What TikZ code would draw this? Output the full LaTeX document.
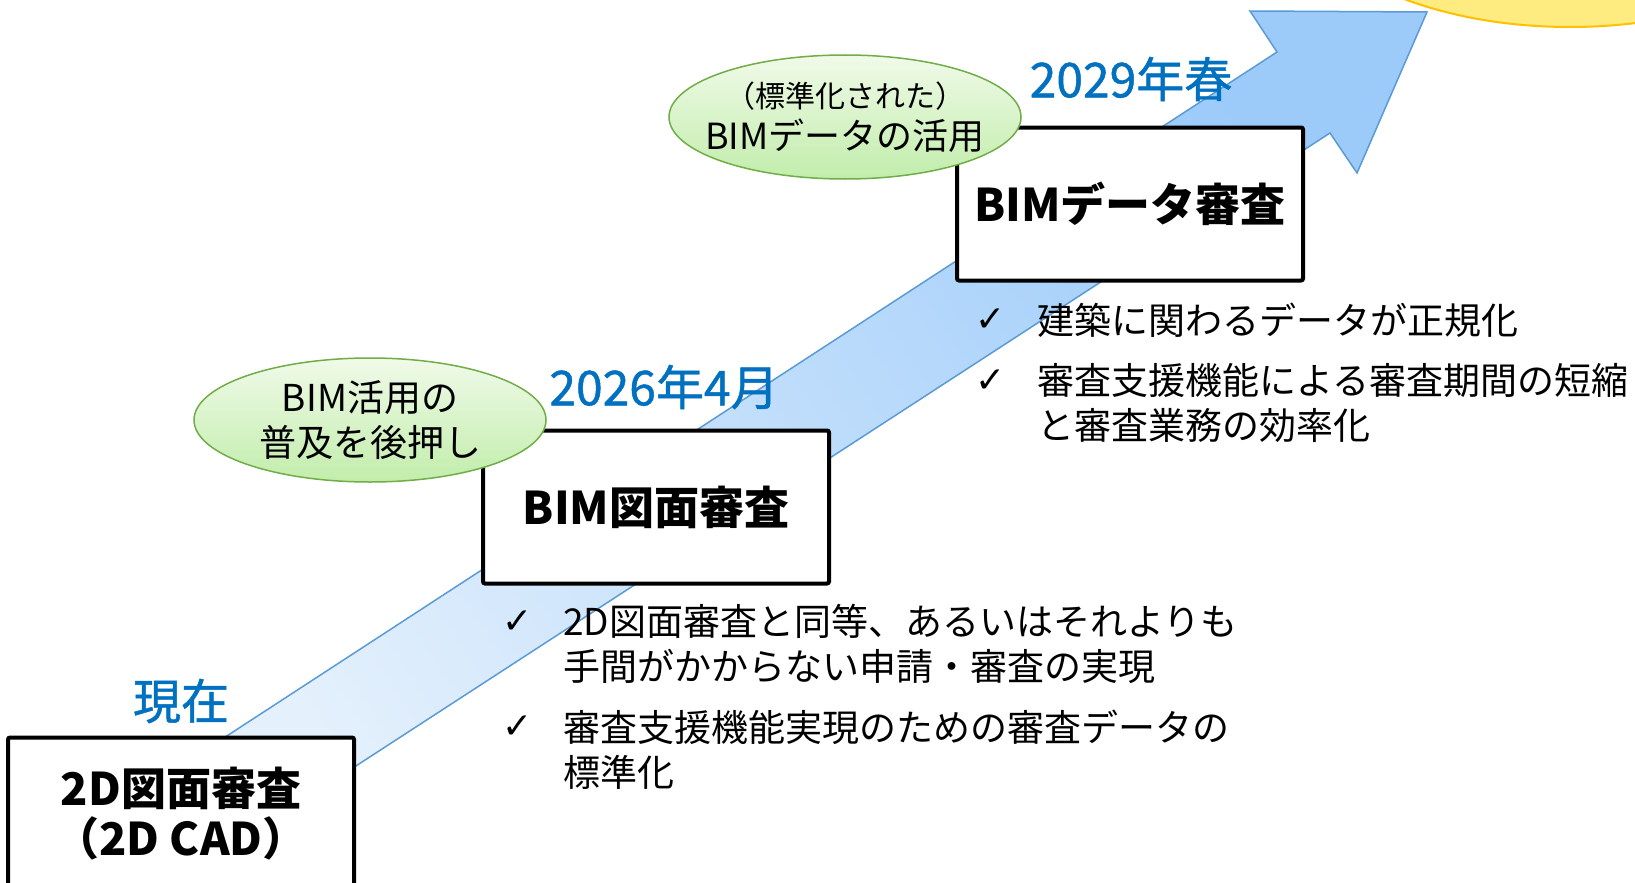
\documentclass[tikz,border=0pt]{standalone}
\usepackage{fontspec}
\setmainfont{Noto Sans CJK JP}
\newfontfamily\datefont[FakeBold=1]{Noto Sans CJK JP}
\newfontfamily\tickfont{DejaVu Sans}
\usetikzlibrary{shapes.geometric}
\definecolor{datblue}{HTML}{0070C0}
\definecolor{bandline}{HTML}{5B9BD5}
\definecolor{bandlo}{HTML}{E4F0FC}
\definecolor{bandhi}{HTML}{9CCBFA}
\definecolor{ovalline}{HTML}{70AD47}
\definecolor{ovaltop}{HTML}{F0FAE9}
\definecolor{ovalbot}{HTML}{C2EDAB}
\definecolor{sunfill}{HTML}{FFEC80}
\definecolor{sunline}{HTML}{FFC000}

\begin{document}
\begin{tikzpicture}[x=1pt,y=-1pt,
  stage/.style={draw,line width=4pt,rounded corners=2pt,fill=white,minimum width=346pt,minimum height=153pt,align=center,font=\bfseries\fontsize{45}{50}\selectfont},
  oval/.style={ellipse,draw=ovalline,line width=1.5pt,top color=ovaltop,bottom color=ovalbot,minimum width=352pt,minimum height=124pt,inner sep=-20pt,align=center},
  when/.style={text=datblue,inner sep=0pt,font=\datefont\fontsize{48}{50}\selectfont},
  tick/.style={inner sep=0pt,font=\tickfont\bfseries\fontsize{36}{38}\selectfont},
  point/.style={anchor=west,inner sep=0pt,align=left,font=\fontsize{37}{45}\selectfont}]
\useasboundingbox (0,0) rectangle (1635,883);
\fill[white] (0,0) rectangle (1635,883);
\clip (0,0) rectangle (1635,883);
\draw[sunline,line width=2pt,fill=sunfill] (1570,-123) ellipse [x radius=285,y radius=150];
\draw[bandline,line width=1.5pt,left color=bandlo,right color=bandhi,shading angle=123]
  (150,786) -- (1277,52) -- (1250,11) -- (1427,12) -- (1357,173) -- (1330,133) -- (202,866) -- cycle;
\node[stage] (now) at (181,814) {2D図面審査\\（2D CAD）};
\node[stage] (plan) at (656,507) {BIM図面審査};
\node[stage] (data) at (1130,204) {BIMデータ審査};
\node[oval,font=\fontsize{37}{45}\selectfont] (push) at (370,420) {BIM活用の\\普及を後押し};
\node[oval,font=\fontsize{36}{42}\selectfont] (use) at (845,117) {{\fontsize{30}{32}\selectfont （標準化された）}\\BIMデータの活用};
\node[when] (t0) at (181,701) {現在};
\node[when] (t1) at (664,387) {2026年4月};
\node[when] (t2) at (1131,79) {2029年春};
\node[tick] (c1) at (518,622) {✓};
\node[point] (p1) at (563,644) {2D図面審査と同等、あるいはそれよりも\\手間がかからない申請・審査の実現};
\node[tick] (c2) at (518,727) {✓};
\node[point] (p2) at (563,750) {審査支援機能実現のための審査データの\\標準化};
\node[tick] (c3) at (991,320) {✓};
\node[point] (p3) at (1037,320) {建築に関わるデータが正規化};
\node[tick] (c4) at (991,381) {✓};
\node[point] (p4) at (1037,403) {審査支援機能による審査期間の短縮\\と審査業務の効率化};
\end{tikzpicture}
\end{document}
